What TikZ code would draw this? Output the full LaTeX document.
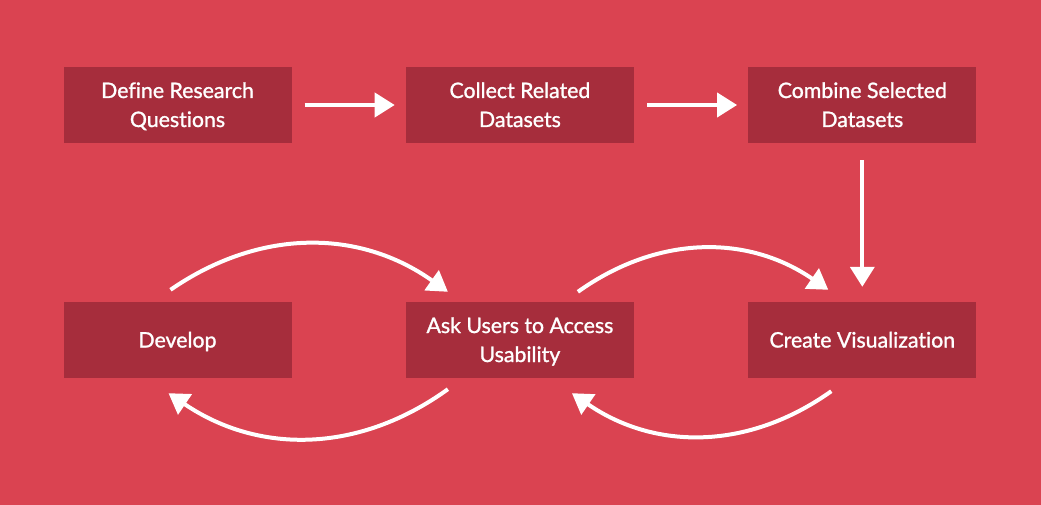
\documentclass[tikz,border=0pt]{standalone}
\usepackage{fontspec}
\setmainfont{Lato}[Ligatures=NoCommon, FakeBold=1.2]
\usetikzlibrary{%
    arrows.meta,
    backgrounds,
    positioning
}

\definecolor{bgred}{RGB}{218,67,81}
\definecolor{boxred}{RGB}{166,45,60}

\tikzset{
    stagebox/.style={fill=boxred, text=white, minimum width=228pt,
                     minimum height=76pt, align=center, inner sep=0pt,
                     font=\fontsize{21.3}{29}\selectfont,
                     text height=44pt, text depth=0pt},
    oneline/.style={text height=15pt},
    flow/.style={white, line width=4pt,
                 -{Triangle[length=20pt,width=24pt]}}
}

\begin{document}
\begin{tikzpicture}[x=1pt, y=-1pt]
    \fill[bgred] (0,0) rectangle (1041,505);
    \useasboundingbox (0,0) rectangle (1041,505);

    % top row
    \node[stagebox] (define)  at (177.5,105) {Define Research\\Questions};
    \node[stagebox] (collect) [right=114pt of define]  {Collect Related\\Datasets};
    \node[stagebox] (combine) [right=114pt of collect] {Combine Selected\\Datasets};

    % bottom row
    \node[stagebox,oneline] (develop) at (177.5,340) {Develop};
    \node[stagebox] (ask)     [right=114pt of develop] {Ask Users to Access\\Usability};
    \node[stagebox,oneline] (viz) [right=114pt of ask] {Create Visualization};

    % straight steps
    \draw[flow] ([xshift=13pt]define.east)  -- ([xshift=-11pt]collect.west);
    \draw[flow] ([xshift=13pt]collect.east) -- ([xshift=-11pt]combine.west);
    \draw[flow] ([yshift=-17pt]combine.south) -- ([yshift=15pt]viz.north);

    % loops
    \draw[flow] ([xshift=-7pt,yshift=12pt]develop.north)
        to[bend left=35] ([xshift=-72pt,yshift=10pt]ask.north);
    \draw[flow] ([xshift=-72pt,yshift=-11pt]ask.south)
        to[bend left=35] ([xshift=-9pt,yshift=-15pt]develop.south);
    \draw[flow] ([xshift=58pt,yshift=10pt]ask.north)
        to[bend left=35] ([xshift=-34pt,yshift=12pt]viz.north);
    \draw[flow] ([xshift=-31pt,yshift=-13pt]viz.south)
        to[bend left=35] ([xshift=52pt,yshift=-15pt]ask.south);
\end{tikzpicture}
\end{document}
